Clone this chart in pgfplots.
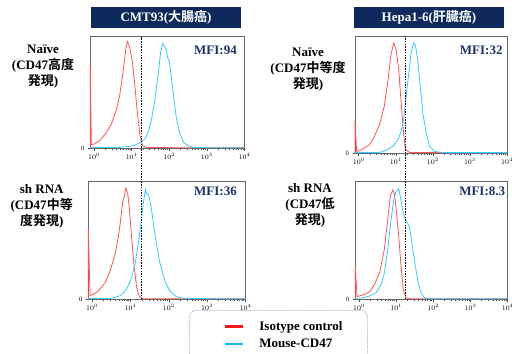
\documentclass[border=0pt]{standalone}
\usepackage{fontspec}
\setmainfont{Liberation Serif}
\newfontfamily\jp{Noto Sans CJK JP}[BoldFont={Noto Sans CJK JP Bold}]
\usepackage{pgfplots}
\pgfplotsset{compat=1.18}
\definecolor{isored}{HTML}{FF5252}
\definecolor{cdblue}{HTML}{33CCFF}
\definecolor{legred}{HTML}{FF1A1A}
\definecolor{legblue}{HTML}{1AB8F5}
\definecolor{navy}{HTML}{0E2A5C}
\definecolor{mfi}{HTML}{1C3366}
\definecolor{legframe}{HTML}{8FA0C0}
\pgfplotsset{
  facs/.style={
    scale only axis, clip=false,
    xmin=-0.1, xmax=4, ymin=0, ymax=100,
    axis line style={draw=black!60, line width=0.6bp},
    xtick={0,1,2,3,4},
    xticklabels={$10^{0}$,$10^{1}$,$10^{2}$,$10^{3}$,$10^{4}$},
    minor xtick={0.301,0.477,0.602,0.699,0.778,0.845,0.903,0.954,
      1.301,1.477,1.602,1.699,1.778,1.845,1.903,1.954,
      2.301,2.477,2.602,2.699,2.778,2.845,2.903,2.954,
      3.301,3.477,3.602,3.699,3.778,3.845,3.903,3.954},
    ytick={0}, yticklabels={0},
    tick align=outside, xtick pos=left, ytick pos=left,
    major tick length=2.5bp, minor tick length=1.5bp,
    tick style={black!70, line width=0.5bp},
    ticklabel style={font=\fontsize{6.5bp}{7bp}\selectfont},
    xticklabel style={yshift=1bp},
  },
  iso/.style={isored, line width=0.8bp, forget plot},
  cd/.style={cdblue, line width=0.8bp, forget plot},
}
\tikzset{dotline/.style={black, line width=1.6bp, dash pattern=on 1.5bp off 1.2bp}}
\begin{document}
\begin{tikzpicture}[x=1bp,y=1bp]
\useasboundingbox (0,0) rectangle (512,353);

% titles
\node[fill=navy, minimum width=150bp, minimum height=20.7bp, inner sep=0pt, text=white, font=\fontsize{13bp}{15bp}\selectfont\bfseries] at (166,335.7) {CMT93({\jp 大腸癌})};
\node[fill=navy, minimum width=150bp, minimum height=20.7bp, inner sep=0pt, text=white, font=\fontsize{13bp}{15bp}\selectfont\bfseries] at (429,335.5) {Hepa1-6({\jp 肝臓癌})};

% top-left
\begin{axis}[facs, at={(90.3bp,205bp)}, anchor=south west, width=154.2bp, height=111.3bp]
\addplot[iso] coordinates {(-0.1,0) (-0.1,73.7) (-0.073,3) (-0.03,3) (0.15,6.6) (0.33,14) (0.46,21.5) (0.60,35) (0.68,47) (0.77,68) (0.845,89) (0.89,95.5) (0.95,90) (1.02,77) (1.085,56) (1.15,32) (1.22,11) (1.29,2) (1.40,0.6) (2,0.3) (4,0.3)};
\addplot[cd] coordinates {(-0.1,0.3) (0.685,0.5) (0.86,1.2) (1.04,2) (1.22,4.5) (1.35,8) (1.44,14) (1.53,26) (1.62,44) (1.71,68) (1.77,86) (1.83,94) (1.86,92) (1.91,89) (1.96,81) (2.0,78) (2.05,65) (2.11,47) (2.18,29) (2.27,14) (2.38,5) (2.51,2) (2.64,0.6) (3,0.3) (4,0.3)};
\end{axis}

% top-right
\begin{axis}[facs, at={(355bp,200bp)}, anchor=south west, width=152bp, height=117bp]
\addplot[iso] coordinates {(-0.1,0) (-0.1,27) (-0.055,1.4) (-0.03,1.4) (0.11,3.4) (0.29,7) (0.42,14) (0.56,24) (0.69,40) (0.78,60) (0.87,84) (0.945,94) (1.01,88) (1.08,71) (1.14,45) (1.21,17) (1.26,3) (1.37,0.5) (2,0.3) (4,0.3)};
\addplot[cd] coordinates {(-0.1,0.3) (0.56,0.5) (0.74,2.3) (0.92,5.7) (1.05,11) (1.14,18) (1.21,28) (1.28,48) (1.35,68) (1.41,85) (1.48,94) (1.53,92) (1.59,80) (1.66,57) (1.73,34) (1.82,17) (1.91,5.7) (2.04,1.4) (2.27,0.3) (4,0.3)};
\end{axis}

% bottom-left
\begin{axis}[facs, at={(88.3bp,54bp)}, anchor=south west, width=157.2bp, height=118bp,
  legend image code/.code={\draw[#1, solid, line width=2.2bp] (0bp,0bp) -- (18bp,0bp); \path[draw=none] (-11bp,0bp) -- (18bp,0bp);},
  legend cell align=left,
  legend style={at={(axis description cs:0.6406,-0.0932)}, anchor=north west, draw=legframe, dash pattern=on 1.5bp off 1bp, rounded corners=7bp, line width=0.6bp, inner xsep=25bp, inner ysep=11bp, row sep=7bp, column sep=15bp, font=\fontsize{13bp}{15bp}\selectfont\bfseries, nodes={inner xsep=0pt, inner ysep=0pt}},
]
\addplot[iso] coordinates {(-0.1,0) (-0.1,59) (-0.055,2.8) (0.075,4.8) (0.21,8.5) (0.34,14) (0.47,24) (0.60,38) (0.68,52) (0.74,66) (0.80,83) (0.84,87) (0.88,94) (0.93,89) (0.97,77) (1.03,52) (1.09,30) (1.16,10) (1.23,2) (1.32,0.3) (4,0.3)};
\addplot[cd] coordinates {(-0.1,0.3) (0.47,0.5) (0.60,1.4) (0.73,2.8) (0.86,6.5) (0.94,11) (1.03,18) (1.12,30) (1.20,46) (1.27,63) (1.33,80) (1.39,93) (1.42,89) (1.47,89) (1.53,80) (1.59,66) (1.68,46) (1.77,30) (1.90,15) (2.03,6.5) (2.20,2) (2.38,0.6) (3,0.3) (4,0.3)};
\addlegendimage{legred}
\addlegendentry{Isotype control}
\addlegendimage{legblue}
\addlegendentry{Mouse-CD47}
\addlegendimage{empty legend}
\addlegendentry{}
\draw[dotline] (axis cs:1.29,0) -- (axis cs:1.29,222.3);
\end{axis}

% bottom-right
\begin{axis}[facs, at={(355.3bp,54bp)}, anchor=south west, width=152.4bp, height=117.3bp]
\addplot[iso] coordinates {(-0.1,0) (-0.1,27.5) (-0.054,2) (0.10,3.4) (0.28,6) (0.41,12) (0.55,22) (0.68,42) (0.77,67) (0.84,87) (0.91,93) (0.95,90) (0.99,79) (1.07,53) (1.13,28) (1.19,8) (1.26,1) (1.35,0.3) (4,0.3)};
\addplot[cd] coordinates {(-0.1,0.5) (0.10,1) (0.28,2.5) (0.46,5.4) (0.59,12) (0.68,22) (0.77,42) (0.86,67) (0.93,84) (0.99,91) (1.07,94) (1.13,84) (1.19,73) (1.26,67) (1.34,63) (1.40,53) (1.49,33) (1.58,16) (1.67,5) (1.76,1) (1.89,0.3) (4,0.3)};
\draw[dotline] (axis cs:1.245,0) -- (axis cs:1.245,224.2);
\end{axis}

% row labels
\begin{scope}[every node/.style={align=center, font=\fontsize{13bp}{16bp}\selectfont\bfseries, inner sep=0pt}]
\node at (43,286.5) {Naïve\\(CD47{\jp 高度}\\{\jp 発現})};
\node at (308,283.3) {Naïve\\(CD47{\jp 中等度}\\{\jp 発現})};
\node at (41.7,146.4) {sh RNA\\(CD47{\jp 中等}\\{\jp 度発現})};
\node at (310,147.4) {sh RNA\\(CD47{\jp 低}\\{\jp 発現})};
\end{scope}

% MFI labels
\begin{scope}[every node/.style={anchor=east, text=mfi, font=\fontsize{13bp}{15bp}\selectfont\bfseries, inner sep=0pt}]
\node at (237,303) {MFI:94};
\node at (502.7,303) {MFI:32};
\node at (237,161.3) {MFI:36};
\node at (505.3,161.3) {MFI:8.3};
\end{scope}
\end{tikzpicture}
\end{document}
